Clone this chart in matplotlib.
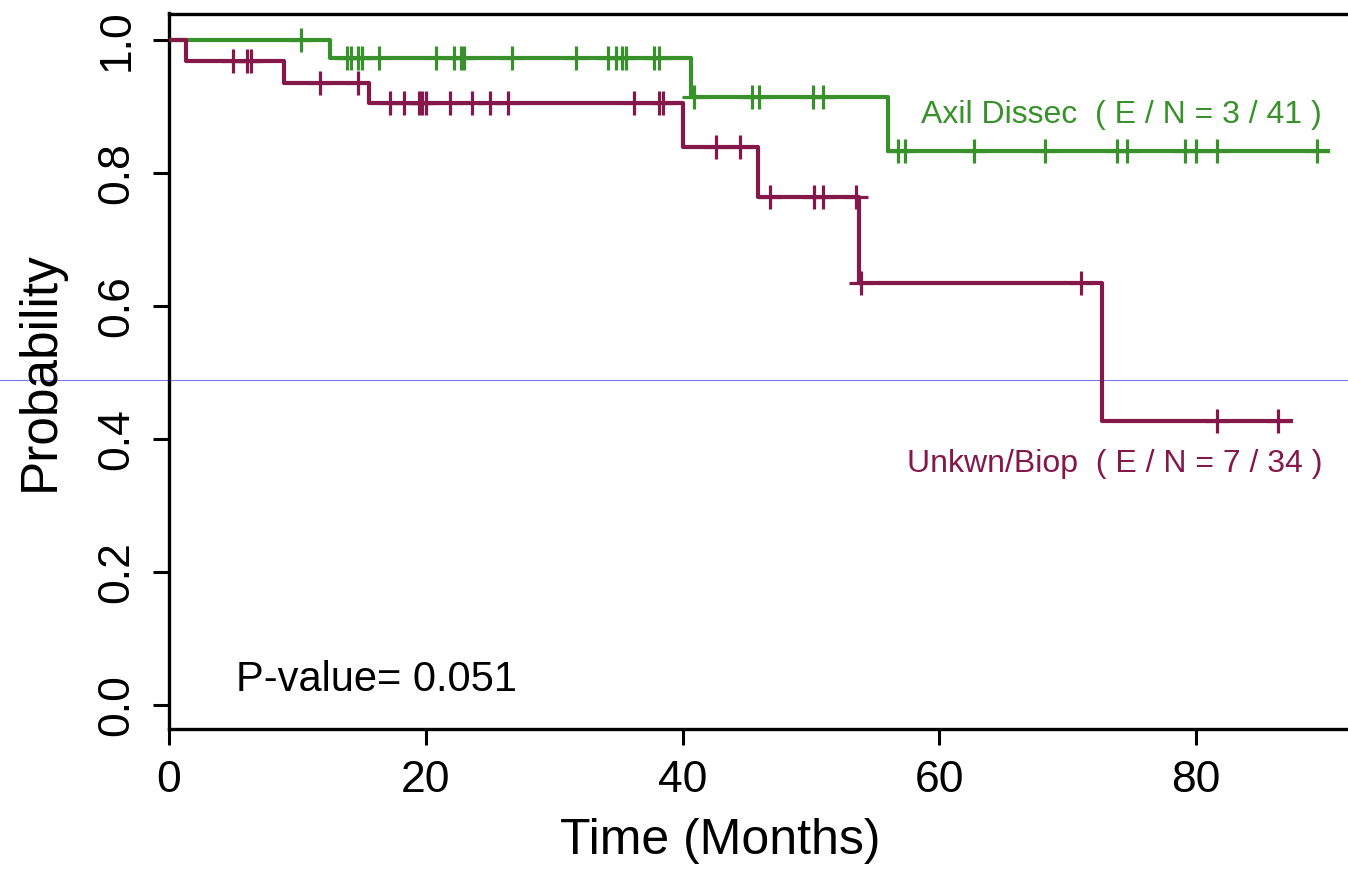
import numpy as np
import matplotlib
matplotlib.use("Agg")
import matplotlib.pyplot as plt

plt.rcParams['font.family'] = ['Liberation Sans', 'DejaVu Sans']

# Kaplan-Meier step data (months, survival after each event)
axil_event_t = [12.5, 40.65, 56.0]
axil_surv = [0.9734, 0.9147, 0.8335]
axil_end = 90.3
axil_censor = [10.3, 13.9, 14.15, 14.7, 15.0, 16.35, 20.8, 22.2, 22.75, 23.0,
               26.7, 31.7, 34.2, 34.8, 35.3, 35.6, 37.8, 38.2, 40.9, 45.4,
               45.95, 50.15, 50.9, 56.8, 57.3, 62.7, 68.2, 73.8, 74.6, 79.1,
               80.0, 81.6, 89.4]

unk_event_t = [1.3, 8.96, 15.6, 40.05, 45.9, 53.7, 72.7]
unk_surv = [0.968, 0.936, 0.905, 0.8395, 0.764, 0.635, 0.4275]
unk_end = 87.4
unk_censor = [5.0, 6.1, 6.4, 11.75, 14.7, 17.2, 18.3, 19.45, 19.7, 20.0,
              21.9, 23.6, 25.0, 26.4, 36.2, 38.15, 38.45, 42.6, 44.5, 46.8,
              50.2, 50.95, 53.5, 53.9, 71.0, 81.6, 86.4]

group_names = ['Axil Dissec', 'Unkwn/Biop']
group_events = [3, 7]
group_n = [41, 34]
label_y = [0.875, 0.350]
p_value = 0.051
guide_y = 0.489

green = '#38912a'
purple = '#85184b'

fig = plt.figure(figsize=(13.48, 8.74), dpi=100)
# right edge of the frame runs past the canvas
ax = fig.add_axes([169 / 1348, 145 / 874, 95 * 12.84 / 1348, 715.5 / 874])


def km_curve(event_t, surv, end, censor, color):
    t = np.r_[0, event_t, end]
    s = np.r_[1.0, surv, surv[-1]]
    ax.step(t, s, where='post', color=color, lw=3.0, zorder=3)
    levels = np.r_[1.0, surv]
    idx = np.searchsorted(event_t, censor, side='right')
    ax.plot(censor, levels[idx], ls='none', marker='+', ms=17, mew=2.3,
            color=color, zorder=3)


km_curve(axil_event_t, axil_surv, axil_end, axil_censor, green)
km_curve(unk_event_t, unk_surv, unk_end, unk_censor, purple)

for name, e, n, y, c in zip(group_names, group_events, group_n, label_y,
                            [green, purple]):
    ax.text(89.8, y, f'{name}  ( E / N = {e} / {n} )', ha='right',
            va='baseline', color=c, fontsize=23)

ax.text(5.2, 0.0215, f'P-value= {p_value}', fontsize=30, va='baseline')

ax.axhline(guide_y, xmin=-0.2, xmax=1.2, clip_on=False, color='#7b7bee',
           lw=0.8, zorder=0.5)

ax.set_xlim(0, 95)
ax.set_ylim(-0.036, 1.04)
ax.set_xticks([0, 20, 40, 60, 80])
ax.set_yticks([0.0, 0.2, 0.4, 0.6, 0.8, 1.0])
ax.set_yticklabels(['0.0', '0.2', '0.4', '0.6', '0.8', '1.0'])
ax.tick_params(direction='out', length=11.5, width=2.2, labelsize=32, pad=11)
for lab in ax.get_yticklabels():
    lab.set_rotation(90)
    lab.set_va('center')
for sp in ax.spines.values():
    sp.set_linewidth(2.4)

ax.set_xlabel('Time (Months)', fontsize=36)
ax.xaxis.set_label_coords(0.4516, -0.125, transform=ax.transAxes)
ax.xaxis.label.set_va('top')
ax.set_ylabel('Probability', fontsize=37, labelpad=23)

fig.savefig('out.png', dpi=100)
